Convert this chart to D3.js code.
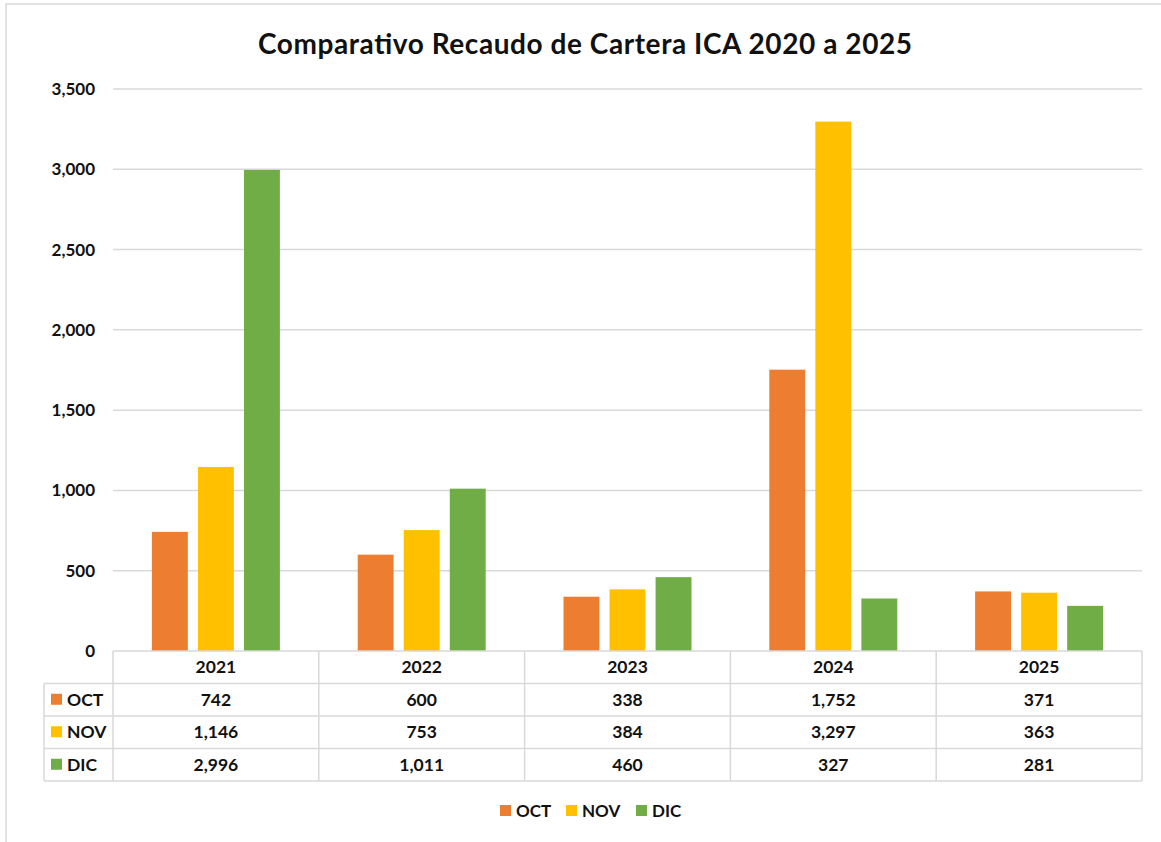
<!DOCTYPE html>
<html>
<head>
<meta charset="utf-8">
<script src="https://cdn.jsdelivr.net/npm/d3@7"></script>
<style>
  body { margin: 0; background: #fff; }
  text { font-family: Lato, "Open Sans", sans-serif; font-weight: bold; fill: #111; }
</style>
</head>
<body>
<script>
// data
let years = ['2021', '2022', '2023', '2024', '2025']
let months = ['OCT', 'NOV', 'DIC']
let oct = [742, 600, 338, 1752, 371]
let nov = [1146, 753, 384, 3297, 363]
let dic = [2996, 1011, 460, 327, 281]
let yTicks = [0, 500, 1000, 1500, 2000, 2500, 3000, 3500]
let colors = ['#ED7D31', '#FFC000', '#70AD47']

let series = [oct, nov, dic]

let svg = d3.select('body').append('svg')
    .attr('width', 1161)
    .attr('height', 842)

// chart border
svg.append('rect')
    .attr('x', 6).attr('y', 4)
    .attr('width', 1170).attr('height', 850)
    .attr('fill', 'none')
    .attr('stroke', '#d9d9d9')
    .attr('stroke-width', 1.5)

let plotLeft = 113, plotRight = 1142, plotTop = 89, plotBottom = 651

let xScale = d3.scaleBand()
    .domain(years)
    .range([plotLeft, plotRight])

let yScale = d3.scaleLinear()
    .domain([0, 3500])
    .range([plotBottom, plotTop])

// inner band for the three months
let xInner = d3.scaleBand()
    .domain(months)
    .range([0, 128])
    .paddingInner(0.22)

// gridlines
svg.append('g')
    .selectAll('line')
    .data(yTicks.filter(d => d > 0))
    .enter()
    .append('line')
        .attr('x1', plotLeft)
        .attr('x2', plotRight)
        .attr('y1', d => yScale(d))
        .attr('y2', d => yScale(d))
        .attr('stroke', '#d9d9d9')
        .attr('stroke-width', 1.5)

// y axis labels
let yAxis = d3.axisLeft(yScale)
    .tickValues(yTicks)
    .tickFormat(d3.format(','))
    .tickSize(0)
    .tickPadding(18)

svg.append('g')
    .attr('transform', 'translate(' + plotLeft + ',0)')
    .call(yAxis)
    .call(g => g.select('.domain').remove())
    .selectAll('text')
        .style('font-size', '17px')
        .attr('fill', '#111')

// bars
months.forEach(function(m, i) {
    svg.append('g')
        .selectAll('rect')
        .data(series[i])
        .enter()
        .append('rect')
            .attr('x', (d, j) => xScale(years[j]) + (xScale.bandwidth() - 128) / 2 + xInner(m))
            .attr('y', d => yScale(d))
            .attr('width', xInner.bandwidth())
            .attr('height', d => plotBottom - yScale(d))
            .attr('fill', colors[i])
})

// title
svg.append('text')
    .attr('x', 585)
    .attr('y', 54)
    .attr('text-anchor', 'middle')
    .style('font-size', '28px')
    .attr('textLength', 654)
    .text('Comparativo Recaudo de Cartera ICA 2020 a 2025')

// data table
let rowH = 32.5
let tableLeft = 44
let table = svg.append('g')
let lineColor = '#d9d9d9'

// horizontal lines
table.append('line')
    .attr('x1', plotLeft).attr('x2', plotRight)
    .attr('y1', plotBottom).attr('y2', plotBottom)
    .attr('stroke', lineColor).attr('stroke-width', 1.5)
for (let r = 1; r <= 4; r++) {
    table.append('line')
        .attr('x1', tableLeft).attr('x2', plotRight)
        .attr('y1', plotBottom + r * rowH).attr('y2', plotBottom + r * rowH)
        .attr('stroke', lineColor).attr('stroke-width', 1.5)
}
// vertical lines
table.append('line')
    .attr('x1', tableLeft).attr('x2', tableLeft)
    .attr('y1', plotBottom + rowH).attr('y2', plotBottom + 4 * rowH)
    .attr('stroke', lineColor).attr('stroke-width', 1.5)
years.concat(['end']).forEach(function(y, j) {
    let x = j < years.length ? xScale(y) : plotRight
    table.append('line')
        .attr('x1', x).attr('x2', x)
        .attr('y1', plotBottom).attr('y2', plotBottom + 4 * rowH)
        .attr('stroke', lineColor).attr('stroke-width', 1.5)
})

// header years
table.selectAll('.yr')
    .data(years)
    .enter()
    .append('text')
        .attr('x', d => xScale(d) + xScale.bandwidth() / 2)
        .attr('y', plotBottom + rowH / 2 + 6)
        .attr('text-anchor', 'middle')
        .style('font-size', '17.5px')
        .text(d => d)

// rows
months.forEach(function(m, i) {
    let cy = plotBottom + (i + 1) * rowH + rowH / 2
    table.append('rect')
        .attr('x', 51).attr('y', cy - 6)
        .attr('width', 11).attr('height', 11)
        .attr('fill', colors[i])
    table.append('text')
        .attr('x', 67).attr('y', cy + 6)
        .style('font-size', '17.5px')
        .text(m)
    table.selectAll('.v' + i)
        .data(series[i])
        .enter()
        .append('text')
            .attr('x', (d, j) => xScale(years[j]) + xScale.bandwidth() / 2)
            .attr('y', cy + 6)
            .attr('text-anchor', 'middle')
            .style('font-size', '17.5px')
            .text(d => d3.format(',')(d))
})

// legend
let legendX = [500, 566, 636]
months.forEach(function(m, i) {
    let g = svg.append('g').attr('transform', 'translate(' + legendX[i] + ',805)')
    g.append('rect')
        .attr('width', 11).attr('height', 11)
        .attr('fill', colors[i])
    g.append('text')
        .attr('x', 16).attr('y', 12)
        .style('font-size', '17px')
        .text(m)
})
</script>
</body>
</html>
